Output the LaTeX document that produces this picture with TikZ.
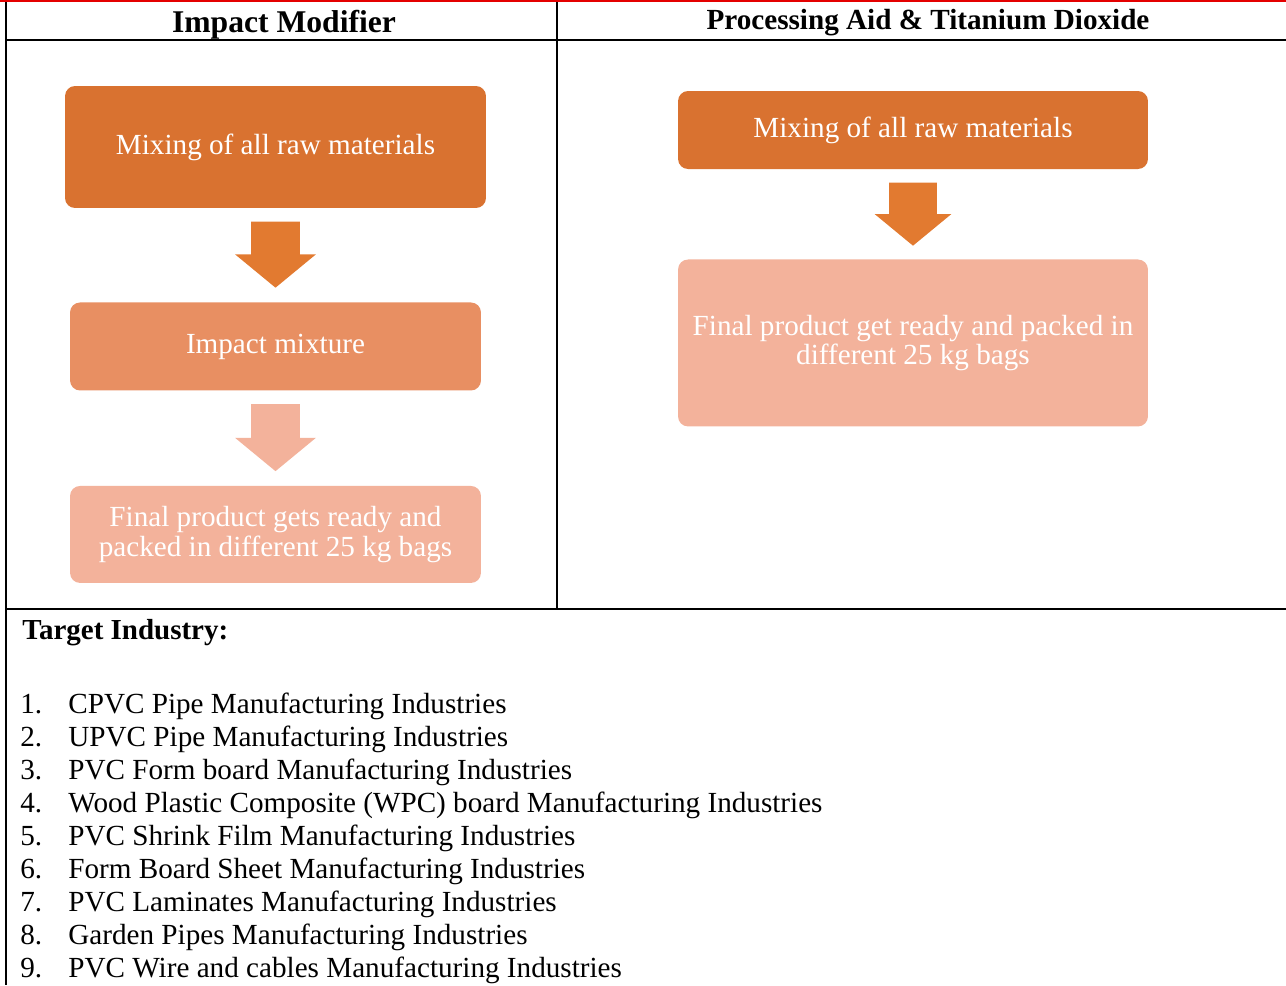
\documentclass[tikz,border=0pt]{standalone}
\usepackage{fontspec}
\setmainfont{Liberation Serif}
\usetikzlibrary{positioning,shapes.arrows}
\definecolor{mixorange}  {RGB}{217,114, 48}
\definecolor{arroworange}{RGB}{226,122, 48}
\definecolor{midsalmon}  {RGB}{232,143, 98}
\definecolor{lightsalmon}{RGB}{243,178,155}
\definecolor{redrule}    {RGB}{228,  0,  0}

\begin{document}
\begin{tikzpicture}[
  x=0.02cm, y=-0.02cm,
  every node/.style={font=\fontsize{16.6}{17}\selectfont, align=center},
  box/.style={rounded corners=0.2cm, inner sep=0pt, text=white},
  blockarrow/.style={single arrow, rotate=-90, draw=none, inner xsep=0pt, inner ysep=0.48cm,
    minimum width=1.6cm, single arrow head extend=0.32cm, single arrow tip angle=101},
  rule/.style={line width=0.04cm},
  heading/.style={font=\bfseries\fontsize{18}{20}\selectfont},
  listline/.style={anchor=base west, inner sep=0pt, font=\fontsize{16.6}{18.7}\selectfont}
]
  \useasboundingbox (0,0) rectangle (1286,985);

  % Table
  \draw[rule, redrule] (0,1) -- (1286,1);
  \draw[rule] (6,2) -- (6,985);
  \draw[rule] (6,40) -- (1286,40);
  \draw[rule] (557,2) -- (557,609);
  \draw[rule] (6,609) -- (1286,609);

  % Headings
  \node[heading] (headA) at (284,25) {Impact Modifier};
  \node[heading, font=\bfseries\fontsize{16.6}{18}\selectfont] (headB) at (928,23) {Processing Aid \& Titanium Dioxide};

  % Impact Modifier flow
  \node (mixA) [box, fill=mixorange, minimum width=8.42cm, minimum height=2.44cm] at (275.5,147) {Mixing of all raw materials};
  \node (arrA1) [blockarrow, fill=arroworange, minimum height=1.32cm, below=0.26cm of mixA, anchor=tail] {};
  \node (mixtureA) [box, fill=midsalmon, minimum width=8.22cm, minimum height=1.76cm, below=0.28cm of arrA1.tip] {Impact mixture};
  \node (arrA2) [blockarrow, fill=lightsalmon, minimum height=1.34cm, below=0.26cm of mixtureA, anchor=tail] {};
  \node (finalA) [box, fill=lightsalmon, minimum width=8.22cm, minimum height=1.94cm, below=0.28cm of arrA2.tip] {Final product gets ready and\\packed in different 25 kg bags};

  % Processing Aid flow
  \node (mixB) [box, fill=mixorange, minimum width=9.4cm, minimum height=1.56cm] at (913,130) {Mixing of all raw materials};
  \node (arrB) [blockarrow, fill=arroworange, minimum height=1.26cm, minimum width=1.52cm, inner ysep=0.47cm,
    single arrow head extend=0.29cm, below=0.26cm of mixB, anchor=tail] {};
  \node (finalB) [box, fill=lightsalmon, minimum width=9.4cm, minimum height=3.34cm, below=0.26cm of arrB.tip] {Final product get ready and packed in\\different 25 kg bags};

  % Target industries
  \node (target) [listline, font=\bfseries\fontsize{16.5}{18}\selectfont] at (22,639) {Target Industry:};
  \foreach \entry [count=\i] in {{CPVC Pipe Manufacturing Industries},
      {UPVC Pipe Manufacturing Industries},
      {PVC Form board Manufacturing Industries},
      {Wood Plastic Composite (WPC) board Manufacturing Industries},
      {PVC Shrink Film Manufacturing Industries},
      {Form Board Sheet Manufacturing Industries},
      {PVC Laminates Manufacturing Industries},
      {Garden Pipes Manufacturing Industries},
      {PVC Wire and cables Manufacturing Industries}} {
    \node (num\i) [listline] at (20,{713+33*(\i-1)}) {\i.};
    \node (item\i) [listline] at (68,{713+33*(\i-1)}) {\entry};
  }
\end{tikzpicture}
\end{document}
